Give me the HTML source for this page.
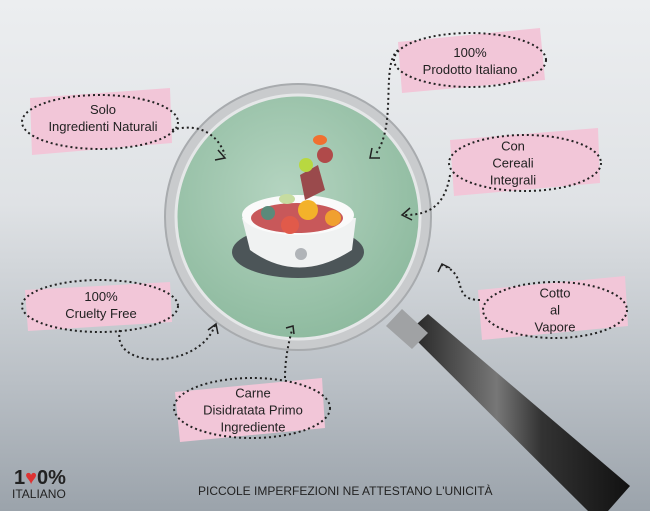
<!DOCTYPE html>
<html><head><style>
html,body{margin:0;padding:0}
body{width:650px;height:511px;overflow:hidden;position:relative;background:linear-gradient(180deg,#eceef0 0%,#dfe2e5 40%,#b9bfc5 75%,#9ba3ab 100%);font-family:"Liberation Sans",sans-serif}
.t{position:absolute;text-align:center;font-size:13px;line-height:17px;color:#222;transform:translate(-50%,-50%);white-space:nowrap}
</style></head><body>
<svg width="650" height="511" style="position:absolute;left:0;top:0">
<defs>
<linearGradient id="h" x1="0" y1="0" x2="1" y2="0"><stop offset="0" stop-color="#222"/><stop offset=".4" stop-color="#777"/><stop offset=".6" stop-color="#333"/><stop offset="1" stop-color="#111"/></linearGradient>
<radialGradient id="g" cx=".45" cy=".4" r=".6"><stop offset="0" stop-color="#b4d4c0"/><stop offset="1" stop-color="#8fbba0"/></radialGradient>
</defs>
<g fill="#f2c6d8">
<polygon points="30,98 170,88 172,143 32,155"/>
<polygon points="398,42 540,28 545,80 402,93"/>
<polygon points="450,140 598,128 600,183 454,196"/>
<polygon points="478,290 625,276 628,326 482,340"/>
<polygon points="25,290 170,282 172,322 28,331"/>
<polygon points="175,392 322,378 325,428 180,442"/>
</g>
<!-- handle -->
<polygon points="408,332 428,314 630,486 608,511 588,511" fill="url(#h)"/>
<polygon points="386,326 402,309 428,333 412,349" fill="#a0a2a4"/>
<!-- lens -->
<circle cx="298" cy="217" r="133" fill="#c9cbcd" stroke="#a8abae" stroke-width="2"/>
<circle cx="298" cy="217" r="122" fill="url(#g)" stroke="#e5e7e8" stroke-width="3"/>
<!-- bowl -->
<ellipse cx="298" cy="252" rx="66" ry="26" fill="#4c5558"/>
<path d="M242,218 L250,250 Q298,285 352,250 L356,218 Z" fill="#f0f2f2"/>
<ellipse cx="298" cy="215" rx="56" ry="20" fill="#fafafa"/>
<ellipse cx="297" cy="218" rx="46" ry="15" fill="#c8585a"/>
<circle cx="308" cy="210" r="10" fill="#f3b22a"/>
<circle cx="290" cy="225" r="9" fill="#e15a4a"/>
<circle cx="333" cy="218" r="8" fill="#f0a030"/>
<circle cx="268" cy="213" r="7" fill="#5a8a7a"/>
<ellipse cx="287" cy="199" rx="8" ry="5" fill="#c6dca0"/>
<path d="M300,175 L318,165 L325,190 L305,200 Z" fill="#9a4a4c"/>
<circle cx="325" cy="155" r="8" fill="#b04a4a"/>
<circle cx="306" cy="165" r="7" fill="#b8d840"/>
<ellipse cx="320" cy="140" rx="7" ry="5" fill="#f07030"/>
<circle cx="301" cy="254" r="6" fill="#b0b4b8"/>
<g fill="none" stroke="#222" stroke-width="2" stroke-dasharray="2 3">
<ellipse cx="100" cy="122" rx="78" ry="27"/>
<ellipse cx="470" cy="60" rx="76" ry="27"/>
<ellipse cx="525" cy="163" rx="76" ry="28"/>
<ellipse cx="555" cy="310" rx="72" ry="28"/>
<ellipse cx="100" cy="306" rx="78" ry="26"/>
<ellipse cx="252" cy="408" rx="78" ry="30"/>
<path d="M172,130 C200,122 218,135 225,155"/>
<path d="M398,50 C380,65 398,125 375,155"/>
<path d="M450,175 C445,205 430,215 405,215"/>
<path d="M480,300 C450,300 470,275 442,265"/>
<path d="M120,330 C110,370 200,370 215,325"/>
<path d="M285,378 C285,360 288,345 292,330"/>
</g>
<g fill="none" stroke="#222" stroke-width="1.5">
<path d="M218,150 L225,158 L215,160"/>
<path d="M372,148 L370,158 L380,158"/>
<path d="M410,208 L402,215 L412,220"/>
<path d="M438,272 L442,264 L450,268"/>
<path d="M208,330 L216,324 L218,334"/>
<path d="M286,328 L293,326 L294,334"/>
</g>
</svg>
<div class="t" style="left:103px;top:118px">Solo<br>Ingredienti Naturali</div>
<div class="t" style="left:470px;top:61px">100%<br>Prodotto Italiano</div>
<div class="t" style="left:513px;top:163px">Con<br>Cereali<br>Integrali</div>
<div class="t" style="left:555px;top:310px">Cotto<br>al<br>Vapore</div>
<div class="t" style="left:101px;top:305px">100%<br>Cruelty Free</div>
<div class="t" style="left:253px;top:410px">Carne<br>Disidratata Primo<br>Ingrediente</div>
<div style="position:absolute;left:14px;top:468px;font-size:20px;font-weight:bold;color:#222;line-height:20px">1<span style="color:#d33">♥</span>0%</div>
<div style="position:absolute;left:12px;top:487px;font-size:12px;color:#222">ITALIANO</div>
<div style="position:absolute;left:198px;top:484px;font-size:12px;color:#222">PICCOLE IMPERFEZIONI NE ATTESTANO L'UNICITÀ</div>
</body></html>
